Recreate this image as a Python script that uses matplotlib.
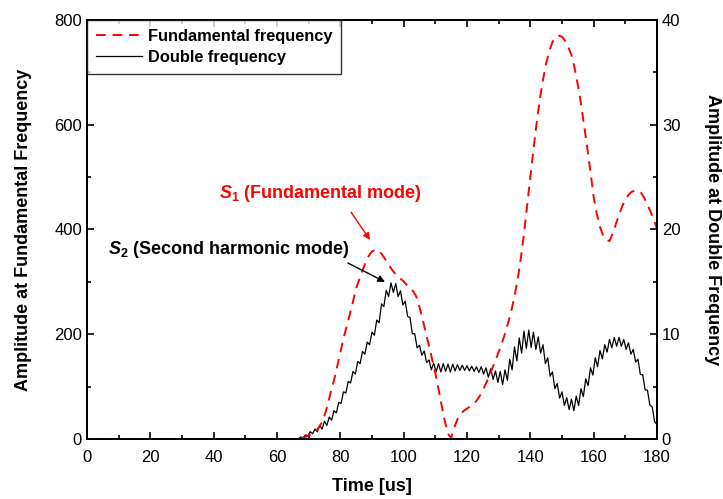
import numpy as np
import matplotlib
matplotlib.use("Agg")
import matplotlib.pyplot as plt
from matplotlib.ticker import MultipleLocator

plt.rcParams['font.family'] = ['Liberation Sans', 'DejaVu Sans']
plt.rcParams['mathtext.fontset'] = 'custom'
plt.rcParams['mathtext.it'] = 'Liberation Sans:italic:bold'
plt.rcParams['mathtext.rm'] = 'Liberation Sans:bold'

# fundamental frequency amplitude (left axis), 1 us steps from 66 to 180
t_fund = np.arange(66, 181, 1)
fund = [0, 0.5, 2, 4, 7, 10, 13, 20, 30, 45,
        65, 90, 112, 138, 165, 192, 215, 238, 262, 288,
        305, 322, 337, 350, 358, 361, 360, 354, 345, 335,
        326, 318, 311, 306, 301, 294, 288, 282, 272, 252,
        228, 203, 178, 152, 126, 96, 64, 34, 10, 2,
        22, 38, 48, 54, 58, 62, 67, 73, 82, 93,
        106, 120, 135, 150, 166, 183, 201, 222, 245, 272,
        305, 345, 392, 445, 500, 553, 603, 648, 686, 717,
        741, 758, 767, 770, 768, 760, 748, 733, 708, 676,
        640, 598, 555, 510, 462, 430, 405, 388, 380, 378,
        392, 410, 428, 444, 457, 466, 472, 474, 474, 470,
        460, 447, 434, 418, 402]

# double frequency amplitude (right axis), 0.75 us steps from 66 to 180
t_dbl = np.arange(66, 180.1, 0.75)
dbl = [0.0, 0.0, 0.2, 0.1, 0.4, 0.3, 0.7, 0.5, 0.95, 0.7,
       1.3, 0.95, 1.7, 1.3, 2.1, 1.8, 2.7, 2.5, 3.5, 3.4,
       4.5, 4.4, 5.5, 5.35, 6.45, 6.2, 7.4, 7.2, 8.35, 8.1,
       9.25, 9.0, 10.2, 9.9, 11.35, 11.1, 12.9, 12.65, 14.2, 13.6,
       14.9, 14.0, 14.85, 13.6, 14.15, 12.8, 13.15, 11.7, 11.6, 10.05,
       10.05, 8.7, 8.95, 8.0, 8.4, 7.3, 7.55, 6.6, 7.25, 6.4,
       7.2, 6.4, 7.2, 6.45, 7.15, 6.4, 7.15, 6.5, 7.1, 6.55,
       7.05, 6.55, 7.0, 6.5, 6.95, 6.45, 6.9, 6.35, 6.9, 6.2,
       6.8, 5.9, 6.7, 5.7, 6.5, 5.4, 6.45, 5.2, 6.6, 5.6,
       7.6, 6.6, 8.8, 7.45, 9.65, 8.2, 10.3, 8.65, 10.4, 8.75,
       10.2, 8.55, 9.75, 8.2, 9.0, 7.2, 7.75, 6.0, 6.4, 4.8,
       5.3, 3.9, 4.5, 3.2, 3.95, 2.8, 3.8, 2.7, 4.1, 3.2,
       4.8, 4.05, 5.75, 5.1, 6.8, 6.1, 7.75, 6.9, 8.45, 7.65,
       9.0, 8.3, 9.5, 8.7, 9.7, 8.85, 9.7, 8.85, 9.5, 8.55,
       9.2, 8.1, 8.55, 7.35, 7.6, 6.15, 6.15, 4.7, 4.65, 3.25,
       3.05, 1.65, 1.4]

# flat zero lead-in before the pulse arrives
t_fund = np.concatenate([[0], t_fund])
fund = [0] + fund
t_dbl = np.concatenate([[0], t_dbl])
dbl = [0] + dbl

fig = plt.figure(figsize=(7.23, 4.99), dpi=100)
ax1 = fig.add_axes([0.1203, 0.1202, 0.9087 - 0.1203, 0.96 - 0.1202])
ax2 = ax1.twinx()

l2, = ax2.plot(t_dbl, dbl, color='black', lw=0.9, label='Double frequency')
l1, = ax1.plot(t_fund, fund, color='red', lw=1.4, ls=(0, (5, 3.5)),
               label='Fundamental frequency')
ax1.set_zorder(ax2.get_zorder() + 1)
ax1.patch.set_visible(False)

ax1.set_xlim(0, 180)
ax1.set_ylim(0, 800)
ax2.set_ylim(0, 40)
ax1.xaxis.set_major_locator(MultipleLocator(20))
ax1.xaxis.set_minor_locator(MultipleLocator(10))
ax1.yaxis.set_major_locator(MultipleLocator(200))
ax1.yaxis.set_minor_locator(MultipleLocator(100))
ax2.yaxis.set_major_locator(MultipleLocator(10))
ax2.yaxis.set_minor_locator(MultipleLocator(5))

ax1.tick_params(axis='x', which='both', direction='in', top=True, labelsize=12, width=1.2, pad=8)
ax1.tick_params(axis='y', which='both', direction='in', right=False, labelsize=12, width=1.2)
ax2.tick_params(axis='y', which='both', direction='in', labelsize=12, width=1.2)
for a in (ax1, ax2):
    a.tick_params(which='major', length=5)
    a.tick_params(which='minor', length=3)
    for s in a.spines.values():
        s.set_linewidth(1.3)

ax1.set_xlabel('Time [us]', fontsize=13, fontweight='bold', labelpad=9)
ax1.set_ylabel('Amplitude at Fundamental Frequency', fontsize=13, fontweight='bold', labelpad=16)
ax2.set_ylabel('Amplitude at Double Frequency', fontsize=13, fontweight='bold',
               rotation=270, labelpad=29)

leg = ax1.legend([l1, l2], ['Fundamental frequency', 'Double frequency'],
                 loc='upper left', borderaxespad=0, fancybox=False,
                 handlelength=2.8, handletextpad=0.35, borderpad=0.55,
                 labelspacing=0.35, prop={'weight': 'bold', 'size': 11.8})
leg.get_frame().set_edgecolor('black')
leg.get_frame().set_linewidth(1.0)

ax1.text(41.7, 469, r'$S_1$ (Fundamental mode)', color='red', fontsize=13,
         fontweight='bold', va='center', ha='left')
ax1.annotate('', xy=(89.4, 380), xytext=(83.4, 433),
             arrowprops=dict(arrowstyle='-|>', color='red', lw=1.0,
                             mutation_scale=10, shrinkA=0, shrinkB=0))
ax1.text(6.6, 361, r'$S_2$ (Second harmonic mode)', color='black', fontsize=13,
         fontweight='bold', va='center', ha='left')
ax1.annotate('', xy=(94.1, 300), xytext=(82.4, 336),
             arrowprops=dict(arrowstyle='-|>', color='black', lw=1.0,
                             mutation_scale=10, shrinkA=0, shrinkB=0))

fig.savefig('out.png', dpi=100)
